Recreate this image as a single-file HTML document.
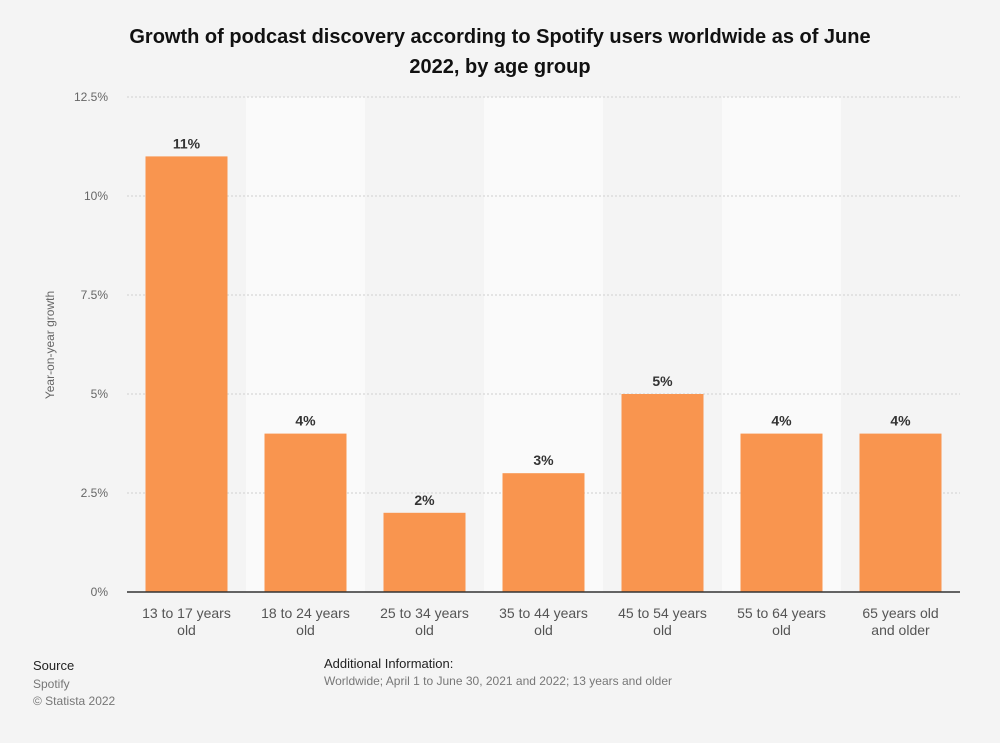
<!DOCTYPE html>
<html><head><meta charset="utf-8"><style>
body{margin:0;background:#f4f4f4;font-family:"Liberation Sans",sans-serif;}
#wrap{position:relative;width:1000px;height:743px;background:#f4f4f4;overflow:hidden}
.t{position:absolute;}
</style></head><body>
<div id="wrap">
<div class="t" style="left:110px;top:22px;width:780px;text-align:center;font-weight:bold;font-size:20px;line-height:30px;color:#111">Growth of podcast discovery according to Spotify users worldwide as of June 2022, by age group</div>
<svg id="chart" width="1000" height="743" style="position:absolute;left:0;top:0"></svg>
<div class="t" style="left:33px;top:658px;font-size:13px;color:#222">Source</div>
<div class="t" style="left:33px;top:676px;font-size:12px;color:#777;line-height:17px">Spotify<br>© Statista 2022</div>
<div class="t" style="left:324px;top:656px;font-size:13px;color:#222">Additional Information:</div>
<div class="t" style="left:324px;top:674px;font-size:12px;color:#777">Worldwide; April 1 to June 30, 2021 and 2022; 13 years and older</div>
</div>
<script>
const categories=["13 to 17 years|old","18 to 24 years|old","25 to 34 years|old","35 to 44 years|old","45 to 54 years|old","55 to 64 years|old","65 years old|and older"];
const values=[11,4,2,3,5,4,4];
const valueLabels=["11%","4%","2%","3%","5%","4%","4%"];
const tickValues=[0,2.5,5,7.5,10,12.5];
const tickLabels=["0%","2.5%","5%","7.5%","10%","12.5%"];
const svg=document.getElementById('chart');const NS="http://www.w3.org/2000/svg";
const x0=127,x1=960,y0=592,y1=97,vmax=12.5;
const bw=(x1-x0)/categories.length;
const y=v=>y0-(v/vmax)*(y0-y1);
function mk(tag,a){const e=document.createElementNS(NS,tag);for(const k in a)e.setAttribute(k,a[k]);svg.appendChild(e);return e;}
categories.forEach((c,i)=>{if(i%2===1){const r=mk('rect',{x:x0+i*bw,y:y1,width:bw,height:y0-y1,fill:'#fafafa'});

}});
tickValues.forEach((v,i)=>{
 if(v>0){const l=mk('line',{x1:x0,x2:x1,y1:y(v),y2:y(v),stroke:'#cfcfcf','stroke-dasharray':'2,2'});
 
 }
 const t=mk('text',{x:108,y:y(v)+4,'text-anchor':'end','font-size':'12','fill':'#666'});t.textContent=tickLabels[i];
 
 
});
values.forEach((v,i)=>{
 const cx=x0+bw*(i+0.5);
 const r=mk('rect',{x:cx-41,y:y(v),width:82,height:y0-y(v),fill:'#f9954f'});
 
 
 const t=mk('text',{x:cx,y:y(v)-8,'text-anchor':'middle','font-size':'14','font-weight':'bold','fill':'#333'});t.textContent=valueLabels[i];
 
 
 const lines=categories[i].split('|');
 lines.forEach((s,j)=>{const c=mk('text',{x:cx,y:618+j*17,'text-anchor':'middle','font-size':'14','fill':'#555'});c.textContent=s;
 
 });
});
const ax=mk('line',{x1:x0,x2:x1,y1:y0,y2:y0,stroke:'#333','stroke-width':1.5});


const yt=mk('text',{x:54,y:345,'text-anchor':'middle','font-size':'12','fill':'#666',transform:'rotate(-90 54 345)'});yt.textContent='Year-on-year growth';


</script>
</body></html>
